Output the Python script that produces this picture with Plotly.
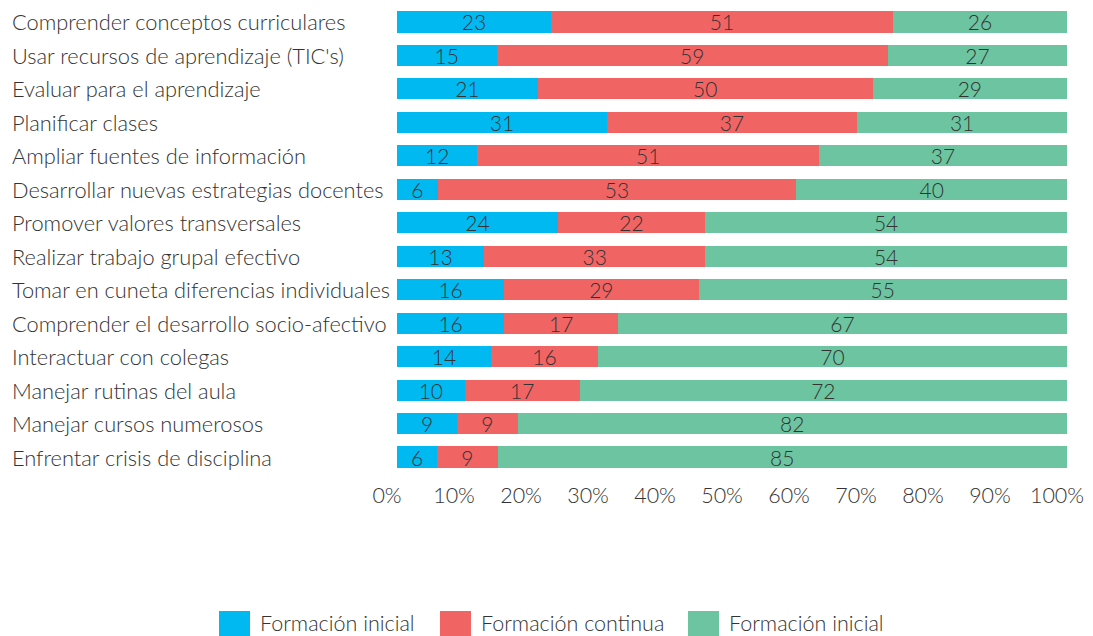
import plotly.graph_objects as go

categories = [
    "Comprender conceptos curriculares",
    "Usar recursos de aprendizaje (TIC's)",
    "Evaluar para el aprendizaje",
    "Planificar clases",
    "Ampliar fuentes de información",
    "Desarrollar nuevas estrategias docentes",
    "Promover valores transversales",
    "Realizar trabajo grupal efectivo",
    "Tomar en cuneta diferencias individuales",
    "Comprender el desarrollo socio-afectivo",
    "Interactuar con colegas",
    "Manejar rutinas del aula",
    "Manejar cursos numerosos",
    "Enfrentar crisis de disciplina",
]
inicial = [23, 15, 21, 31, 12, 6, 24, 13, 16, 16, 14, 10, 9, 6]
continua = [51, 59, 50, 37, 51, 53, 22, 33, 29, 17, 16, 17, 9, 9]
inicial_2 = [26, 27, 29, 31, 37, 40, 54, 54, 55, 67, 70, 72, 82, 85]
x_ticks = [0, 10, 20, 30, 40, 50, 60, 70, 80, 90, 100]
x_tick_labels = [f"{v}%" for v in x_ticks]

series_names = ["Formación inicial", "Formación continua", "Formación inicial"]
series_values = [inicial, continua, inicial_2]
series_colors = ["#00B9F1", "#F16464", "#6CC5A0"]

FONT = "Lato"
TXT = "#333333"

# plot area geometry (px) used to place the hand-made legend
PLOT_L, PLOT_W, PLOT_B, PLOT_H = 397, 670, 474, 466
legend_px = [219, 440, 688]   # left edge of each legend swatch


def px_x(p):
    return (p - PLOT_L) / PLOT_W


def px_y(p):
    return (PLOT_B - p) / PLOT_H


fig = go.Figure()
for name, vals, color in zip(series_names, series_values, series_colors):
    fig.add_trace(go.Bar(
        y=categories, x=vals, name=name, orientation='h', showlegend=False,
        marker=dict(color=color, line=dict(width=0)),
        text=vals, textposition='inside', insidetextanchor='middle',
        textangle=0,
        textfont=dict(family=FONT, size=21, color=TXT, weight=300),
    ))

# left-aligned category labels
for cat in categories:
    fig.add_annotation(
        x=-0.578, xref='paper', y=cat, yref='y',
        text=cat, showarrow=False, xanchor='left', yanchor='middle',
        font=dict(family=FONT, size=21.8, color=TXT, weight=300),
    )

# legend with large swatches
for name, color, lx in zip(series_names, series_colors, legend_px):
    fig.add_shape(type='rect', xref='paper', yref='paper',
                  x0=px_x(lx), x1=px_x(lx + 31), y0=px_y(611), y1=px_y(640),
                  fillcolor=color, line=dict(width=0))
    fig.add_annotation(x=px_x(lx + 39), xref='paper', y=px_y(623), yref='paper',
                       text=name, showarrow=False, xanchor='left', yanchor='middle',
                       font=dict(family=FONT, size=21.5, color=TXT, weight=300))

fig.update_layout(
    barmode='stack', barnorm='percent', bargap=0.37,
    width=1085, height=628,
    margin=dict(l=389, r=26, t=0, b=162, autoexpand=False),
    plot_bgcolor='white', paper_bgcolor='white',
    font=dict(family=FONT, color=TXT, weight=300),
    uniformtext=dict(minsize=21, mode='show'),
    showlegend=False,
    xaxis=dict(range=[0, 100.001], tickmode='array', tickvals=x_ticks,
               ticktext=x_tick_labels, showgrid=False,
               zeroline=False, showline=False, ticklabelstandoff=6,
               ticklabelshift=-10, ticklabeloverflow='allow',
               tickfont=dict(family=FONT, size=21.5, color=TXT, weight=300)),
    yaxis=dict(range=[13.508, -0.418], showticklabels=False, showgrid=False,
               zeroline=False),
)

fig.write_html("out.html")
